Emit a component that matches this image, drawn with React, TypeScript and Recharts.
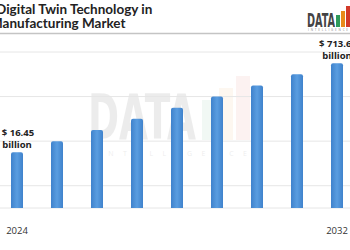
import React from 'react';
import { BarChart, Bar, XAxis, YAxis, CartesianGrid, LabelList } from 'recharts';

const years = ['2024', '2025', '2026', '2027', '2028', '2029', '2030', '2031', '2032'];
// relative bar heights as drawn (in half-gridline units)
const barHeights = [5, 6, 7, 8, 9, 10, 11, 12, 13];
const valueLabels = ['$ 16.45', '', '', '', '', '', '', '', '$ 713.61'];
const tickLabels = ['2024', '', '', '', '', '', '', '', '2032'];
const yTicks = [0, 2, 4, 6, 8, 10, 12, 14];

const data = years.map((y, i) => ({ year: y, height: barHeights[i], label: valueLabels[i], tick: tickLabels[i] }));

const FONT = "'Open Sans', 'Noto Sans', sans-serif";
const TITLE_FONT = "Lato, 'Open Sans', sans-serif";

const XTick = (props: any) => {
  const { x, y, index } = props;
  const t = tickLabels[index];
  if (!t) return null;
  return (
    <text x={x} y={y + 18} textAnchor="middle" fontFamily={FONT} fontSize={9.5} fill="#333">
      {t}
    </text>
  );
};

const ValueLabel = (props: any) => {
  const { x, y, width, value } = props;
  if (!value) return null;
  const cx = x + width / 2;
  return (
    <g>
      <text x={cx + 1} y={y - 16.5} textAnchor="middle" fontFamily={FONT} fontWeight={700} fontSize={9.5} fill="#222">
        {value}
      </text>
      <text x={cx} y={y - 4.5} textAnchor="middle" fontFamily={FONT} fontWeight={700} fontSize={9.5} fill="#222">
        billion
      </text>
    </g>
  );
};

export default function App() {
  return (
    <div style={{ position: 'absolute', left: -3, top: 0, width: 360, height: 250, background: '#fff' }}>
      <svg width={360} height={250} style={{ position: 'absolute', left: 0, top: 0 }}>
        {/* watermark */}
        <g opacity={0.07}>
          <text x={91} y={139} fontFamily="'Liberation Sans Narrow', 'DejaVu Sans Condensed', sans-serif" fontWeight={700} fontSize={62} fill="#000" textLength={108} lengthAdjust="spacingAndGlyphs">
            DATA
          </text>
          <text x={100} y={156} fontFamily={FONT} fontSize={7} fill="#000" textLength={150} lengthAdjust="spacing">
            INTELLIGENCE
          </text>
        </g>
        <g opacity={0.06}>
          <rect x={205} y={100} width={14} height={40} fill="#2e9a5a" />
          <rect x={222} y={88} width={14} height={52} fill="#e88a1a" />
          <rect x={239} y={76} width={14} height={64} fill="#d23a2a" />
        </g>
        {/* title */}
        <text x={-1} y={13.5} fontFamily={TITLE_FONT} fontWeight={700} fontSize={13.5} fill="#222">
          Digital Twin Technology in
        </text>
        <text x={-7} y={28} fontFamily={TITLE_FONT} fontWeight={700} fontSize={13.5} fill="#222">
          Manufacturing Market
        </text>
        <line x1={0} x2={360} y1={33.5} y2={33.5} stroke="#c4c4c4" strokeWidth={1.5} />
        {/* logo */}
        <text x={310} y={27} fontFamily="'Liberation Sans Narrow', 'DejaVu Sans Condensed', sans-serif" fontWeight={700} fontSize={20} fill="#444" textLength={28} lengthAdjust="spacingAndGlyphs">
          DATA
        </text>
        <rect x={339} y={15} width={4} height={12} fill="#2e9a5a" />
        <rect x={344} y={11} width={4} height={16} fill="#e88a1a" />
        <rect x={349} y={6} width={4} height={21} fill="#d23a2a" />
        <text x={311} y={31} fontFamily={FONT} fontSize={3} fill="#888" textLength={40} lengthAdjust="spacing">
          INTELLIGENCE
        </text>
      </svg>
      <div style={{ position: 'absolute', left: 0, top: 0 }}>
        <BarChart width={360} height={250} data={data} margin={{ top: 52, right: 0, bottom: 0, left: 0 }}>
          <defs>
            <linearGradient id="barGrad" x1="0" y1="0" x2="1" y2="0">
              <stop offset="0%" stopColor="#3f82cc" />
              <stop offset="50%" stopColor="#5a9de0" />
              <stop offset="100%" stopColor="#3f82cc" />
            </linearGradient>
          </defs>
          <CartesianGrid vertical={false} stroke="#e6e6e6" />
          <XAxis dataKey="year" height={42} interval={0} tickLine={false} axisLine={false} tick={<XTick />} />
          <YAxis hide domain={[0, 14]} ticks={yTicks} />
          <Bar dataKey="height" barSize={12} fill="url(#barGrad)" radius={[2, 2, 0, 0]} isAnimationActive={false}>
            <LabelList dataKey="label" content={<ValueLabel />} />
          </Bar>
        </BarChart>
      </div>
    </div>
  );
}
